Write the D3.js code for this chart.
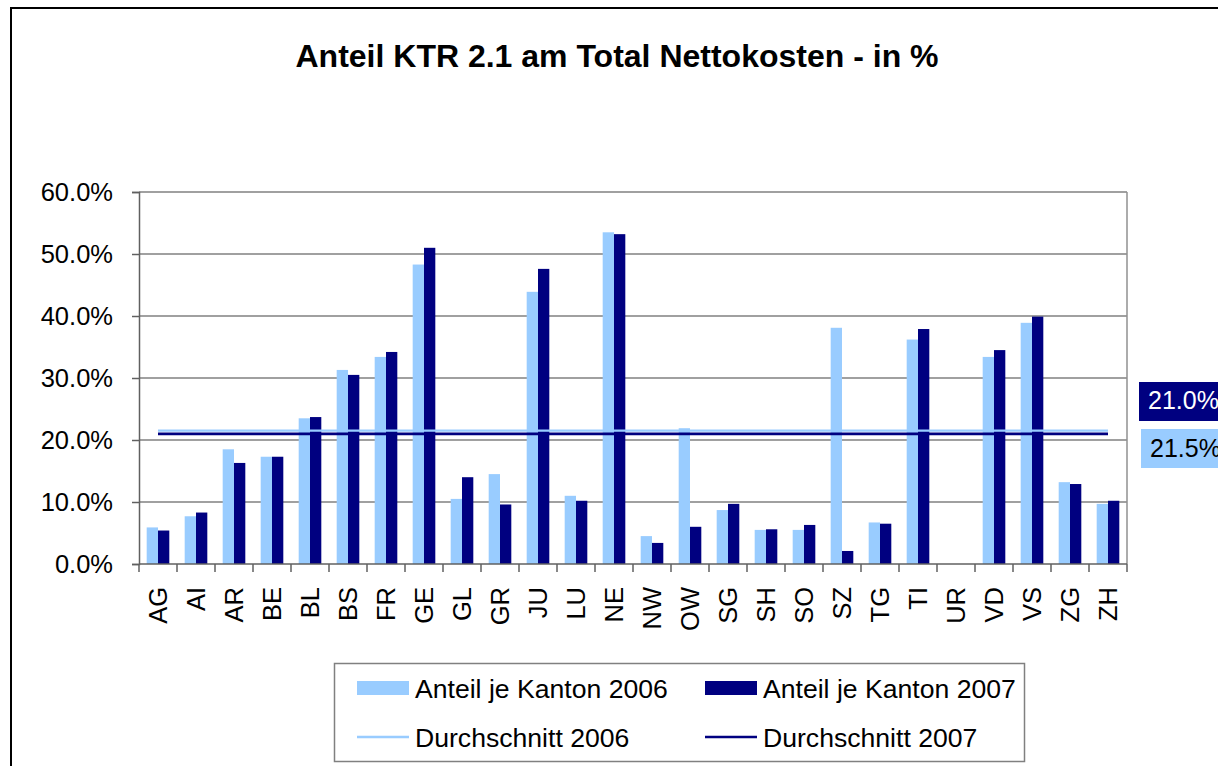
<!DOCTYPE html>
<html>
<head>
<meta charset="utf-8">
<script src="https://cdn.jsdelivr.net/npm/d3@7"></script>
<style>
  html, body { margin: 0; padding: 0; background: #fff; }
  svg { display: block; font-family: "Liberation Sans", Arial, sans-serif; }
</style>
</head>
<body>
<svg id="chart" width="1218" height="766"></svg>
<script>
const cantons = ["AG","AI","AR","BE","BL","BS","FR","GE","GL","GR","JU","LU","NE","NW","OW","SG","SH","SO","SZ","TG","TI","UR","VD","VS","ZG","ZH"];
const share2006 = [5.9,7.7,18.5,17.3,23.5,31.3,33.4,48.3,10.5,14.5,43.9,11.0,53.5,4.5,21.9,8.7,5.5,5.5,38.1,6.7,36.2,0,33.4,38.9,13.2,9.7];
const share2007 = [5.4,8.3,16.3,17.3,23.7,30.5,34.2,51.0,14.0,9.6,47.6,10.2,53.2,3.4,6.0,9.7,5.6,6.3,2.1,6.5,37.9,0,34.5,39.9,12.9,10.2];
const average2006 = 21.5;
const average2007 = 21.0;
const yTicks = [0,10,20,30,40,50,60];
const seriesNames = ["Anteil je Kanton 2006","Anteil je Kanton 2007","Durchschnitt 2006","Durchschnitt 2007"];
const titleText = "Anteil KTR 2.1 am Total Nettokosten - in %";

(function(){
const light = "#99CCFF", dark = "#000080";
const svg = d3.select("#chart");

// outer frame
svg.append("rect").attr("x",11).attr("y",8).attr("width",1240).attr("height",800)
  .attr("fill","#fff").attr("stroke","#000").attr("stroke-width",2);

svg.append("text").attr("x",617).attr("y",67).attr("text-anchor","middle")
  .attr("font-size",32).attr("font-weight","bold").text(titleText);

const pL = 139, pR = 1127, pT = 192, pB = 564;
const x = d3.scaleBand().domain(cantons).range([pL,pR]).padding(0);
const y = d3.scaleLinear().domain([0,60]).range([pB,pT]);
const x1 = d3.scaleBand().domain(["2006","2007"]).range([0,x.bandwidth()]).paddingInner(0).paddingOuter(0.68);

// gridlines
svg.append("g").selectAll("line").data(yTicks.filter(d=>d>0)).join("line")
  .attr("x1",pL).attr("x2",pR).attr("y1",d=>y(d)).attr("y2",d=>y(d))
  .attr("stroke","#808080").attr("stroke-width",1.5);
// right border
svg.append("line").attr("x1",pR).attr("x2",pR).attr("y1",pT).attr("y2",pB)
  .attr("stroke","#909090").attr("stroke-width",1.5);

// bars
const data = cantons.map((c,i)=>({c, v6: share2006[i], v7: share2007[i]}));
svg.append("g").selectAll("rect").data(data).join("rect")
  .attr("x",d=>x(d.c)+x1("2006")).attr("width",x1.bandwidth())
  .attr("y",d=>y(d.v6)).attr("height",d=>y(0)-y(d.v6)).attr("fill",light);
svg.append("g").selectAll("rect").data(data).join("rect")
  .attr("x",d=>x(d.c)+x1("2007")).attr("width",x1.bandwidth())
  .attr("y",d=>y(d.v7)).attr("height",d=>y(0)-y(d.v7)).attr("fill",dark);

// average lines
const xs = x(cantons[0])+x.bandwidth()/2, xe = x(cantons[cantons.length-1])+x.bandwidth()/2;
svg.append("line").attr("x1",xs).attr("x2",xe).attr("y1",y(average2006)).attr("y2",y(average2006))
  .attr("stroke",light).attr("stroke-width",2.2);
svg.append("line").attr("x1",xs).attr("x2",xe).attr("y1",y(average2007)).attr("y2",y(average2007))
  .attr("stroke",dark).attr("stroke-width",2.8);

// y axis
const yAxis = svg.append("g").attr("transform",`translate(${pL},0)`)
  .call(d3.axisLeft(y).tickValues(yTicks).tickFormat(d=>d3.format(".1f")(d)+"%").tickSize(7).tickPadding(19));
yAxis.selectAll("path, line").attr("stroke","#606060").attr("stroke-width",1.5);
yAxis.selectAll("text").attr("font-size",25.5).attr("fill","#000").attr("font-family","Liberation Sans, Arial, sans-serif");

// x axis
svg.append("line").attr("x1",pL).attr("x2",pR).attr("y1",pB).attr("y2",pB)
  .attr("stroke","#606060").attr("stroke-width",1.5);
const bounds = cantons.map(c=>x(c)).concat([x.range()[1]]);
svg.append("g").selectAll("line").data(bounds).join("line")
  .attr("x1",d=>d).attr("x2",d=>d).attr("y1",pB).attr("y2",pB+8)
  .attr("stroke","#606060").attr("stroke-width",1.5);
svg.append("g").selectAll("text").data(cantons).join("text")
  .attr("transform",d=>`translate(${x(d)+x.bandwidth()/2},587) rotate(-90)`)
  .attr("text-anchor","end").attr("dy","0.34em").attr("font-size",25.5).text(d=>d);

// value labels at right
svg.append("rect").attr("x",1139).attr("y",382).attr("width",100).attr("height",39).attr("fill",dark);
svg.append("text").attr("x",1148).attr("y",409).attr("font-size",25).attr("fill","#fff")
  .text(d3.format(".1f")(average2007)+"%");
svg.append("rect").attr("x",1141).attr("y",429).attr("width",100).attr("height",39).attr("fill",light);
svg.append("text").attr("x",1150).attr("y",457).attr("font-size",25).attr("fill","#000")
  .text(d3.format(".1f")(average2006)+"%");

// legend
svg.append("rect").attr("x",334.5).attr("y",663.5).attr("width",690).attr("height",98)
  .attr("fill","#fff").attr("stroke","#808080").attr("stroke-width",1.5);
const legendItems = [
  {name: seriesNames[0], color: light, type:"rect", x:357, y:688},
  {name: seriesNames[1], color: dark, type:"rect", x:705, y:688},
  {name: seriesNames[2], color: light, type:"line", x:357, y:737},
  {name: seriesNames[3], color: dark, type:"line", x:705, y:737}
];
const lg = svg.append("g").selectAll("g").data(legendItems).join("g");
lg.filter(d=>d.type==="rect").append("rect").attr("x",d=>d.x).attr("y",d=>d.y-7).attr("width",52).attr("height",14).attr("fill",d=>d.color);
lg.filter(d=>d.type==="line").append("line").attr("x1",d=>d.x).attr("x2",d=>d.x+52).attr("y1",d=>d.y).attr("y2",d=>d.y)
  .attr("stroke",d=>d.color).attr("stroke-width",2.5);
lg.append("text").attr("x",d=>d.x+58).attr("y",d=>d.y+10).attr("font-size",26.6).text(d=>d.name);
})();
</script>
</body>
</html>
